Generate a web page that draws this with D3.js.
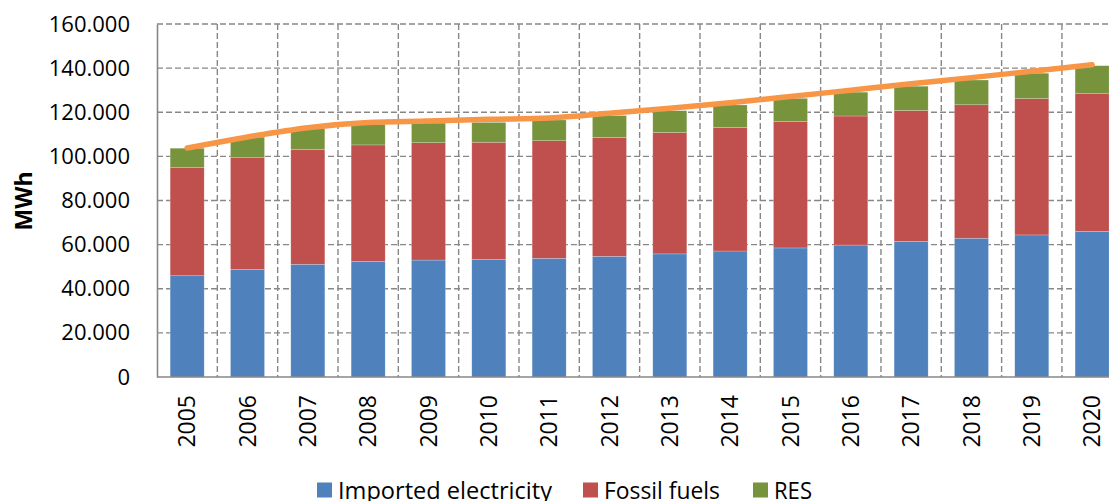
<!DOCTYPE html>
<html>
<head>
<meta charset="utf-8">
<script src="https://cdn.jsdelivr.net/npm/d3@7"></script>
<style>
  html, body { margin: 0; padding: 0; background: #fff; }
  svg { display: block; }
  text { font-family: "Open Sans", "DejaVu Sans", sans-serif; fill: #000; }
</style>
</head>
<body>
<svg id="chart" width="1109" height="501"></svg>
<script>
// ---- data (MWh, shown with "." thousands separator) ----
const years = ["2005","2006","2007","2008","2009","2010","2011","2012","2013","2014","2015","2016","2017","2018","2019","2020"];
const importedElectricity = [45900, 48800, 51100, 52400, 53000, 53300, 53800, 54700, 55800, 57100, 58500, 59800, 61500, 62900, 64400, 66000];
const fossilFuels = [49000, 50600, 52100, 52800, 53200, 53100, 53300, 53900, 55000, 56000, 57300, 58500, 59300, 60500, 61800, 62600];
const res = [8800, 9300, 9400, 9400, 8900, 9000, 9400, 9900, 9900, 10200, 10500, 10800, 11000, 11200, 11500, 12500];
const trendLine = [103800, 108800, 113000, 115300, 116000, 116800, 117400, 119500, 121800, 124300, 127100, 130000, 132900, 135700, 138600, 141500];
const yTicks = [0, 20000, 40000, 60000, 80000, 100000, 120000, 140000, 160000];
const seriesNames = ["Imported electricity", "Fossil fuels", "RES"];
const seriesColors = ["#4F81BD", "#C0504D", "#77933C"];

const svg = d3.select("#chart");
const margin = { left: 157, top: 24, bottom: 377 };
const step = 60.33;
const right = margin.left + step * years.length;

const x = d3.scaleBand().domain(years).range([margin.left, right])
  .paddingInner(0.436).paddingOuter(0.218);
const y = d3.scaleLinear().domain([0, 160000]).range([margin.bottom, margin.top]);

const fmt = v => v === 0 ? "0" : d3.format(",")(v).replace(/,/g, ".");

// grid
const grid = svg.append("g");
grid.selectAll("line.h").data(yTicks.filter(d => d > 0)).join("line")
  .attr("x1", margin.left).attr("x2", right)
  .attr("y1", d => y(d)).attr("y2", d => y(d))
  .attr("stroke", "#878787").attr("stroke-width", 1.4).attr("stroke-dasharray", "6,3");
const gap = x.step() - x.bandwidth();
grid.selectAll("line.v").data(years).join("line")
  .attr("x1", d => x(d) + x.bandwidth() + gap / 2).attr("x2", d => x(d) + x.bandwidth() + gap / 2)
  .attr("y1", margin.top).attr("y2", margin.bottom)
  .attr("stroke", "#878787").attr("stroke-width", 1.4).attr("stroke-dasharray", "6,3");

// stacked bars
const rows = years.map((yr, i) => ({ year: yr, s0: importedElectricity[i], s1: fossilFuels[i], s2: res[i] }));
const stack = d3.stack().keys(["s0", "s1", "s2"])(rows);
svg.append("g").selectAll("g").data(stack).join("g")
  .attr("fill", (d, i) => seriesColors[i])
  .selectAll("rect").data(d => d).join("rect")
  .attr("x", d => x(d.data.year))
  .attr("width", x.bandwidth())
  .attr("y", d => y(d[1]))
  .attr("height", d => y(d[0]) - y(d[1]))
  .attr("stroke", "rgba(255,255,255,0.35)").attr("stroke-width", 0.6);

// axes
const yAxis = d3.axisLeft(y).tickValues(yTicks).tickFormat(fmt).tickSize(0).tickPadding(27);
const gy = svg.append("g").attr("transform", `translate(${margin.left},0)`).call(yAxis);
gy.select(".domain").attr("stroke", "#878787").attr("stroke-width", 1.6);
gy.selectAll("text").style("font-size", "22px").style("font-family", "'Open Sans', sans-serif").attr("fill", "#000");

const xAxis = d3.axisBottom(x).tickSize(0).tickPadding(0);
const gx = svg.append("g").attr("transform", `translate(0,${margin.bottom})`).call(xAxis);
gx.select(".domain").attr("stroke", "#878787").attr("stroke-width", 1.6).attr("d", `M${margin.left},0H${right}`);
gx.selectAll("text")
  .style("font-size", "23px").style("font-family", "'Open Sans', sans-serif").attr("fill", "#000")
  .attr("text-anchor", "end")
  .attr("transform", "translate(0,18) rotate(-90)")
  .attr("x", 0).attr("y", 0).attr("dy", "0.35em").attr("dx", 0);

// line
const line = d3.line()
  .x((d, i) => x(years[i]) + x.bandwidth() / 2)
  .y(d => y(d))
  .curve(d3.curveMonotoneX);
svg.append("path").datum(trendLine).attr("d", line)
  .attr("fill", "none").attr("stroke", "#F79646").attr("stroke-width", 5.5)
  .attr("stroke-linecap", "round").attr("stroke-linejoin", "round");

// y title
svg.append("text").attr("transform", "translate(32,201) rotate(-90)")
  .attr("text-anchor", "middle").style("font-size", "23px").style("font-weight", "bold")
  .text("MWh");

// legend
const legendX = [317, 583, 753];
const legendW = [214, 116, 38];
const lg = svg.append("g").selectAll("g").data(seriesNames).join("g")
  .attr("transform", (d, i) => `translate(${legendX[i]},482)`);
lg.append("rect").attr("width", 15).attr("height", 15).attr("y", 0.5).attr("fill", (d, i) => seriesColors[i]);
lg.append("text").attr("x", 21).attr("y", 16.5).style("font-size", "23.5px")
  .attr("textLength", (d, i) => legendW[i]).attr("lengthAdjust", "spacingAndGlyphs")
  .text(d => d);
</script>
</body>
</html>
